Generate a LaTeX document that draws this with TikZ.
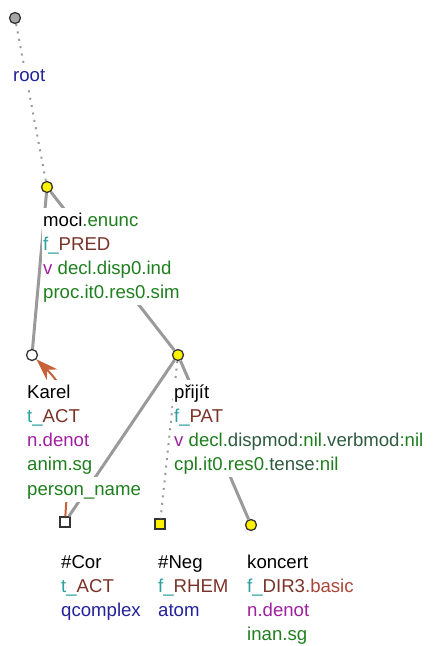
\documentclass[tikz,border=0pt]{standalone}
\usepackage{fontspec}
\setmainfont{Liberation Sans}
\usetikzlibrary{arrows.meta}
\definecolor{tgteal}{HTML}{2BA0A0}
\definecolor{tgbrown}{HTML}{7A3328}
\definecolor{tgpurple}{HTML}{A020A0}
\definecolor{tggreen}{HTML}{1F7F1F}
\definecolor{tgdkgreen}{HTML}{2F5B40}
\definecolor{tgblue}{HTML}{22229A}
\definecolor{tgred}{HTML}{A8473A}
\definecolor{tgorange}{HTML}{C8603A}
\definecolor{tgedge}{HTML}{9A9A9A}
\tikzset{
  tnode/.style={circle, draw=black!80, line width=1.3pt, inner sep=0pt,
    minimum size=11pt},
  tsquare/.style={rectangle, draw=black!80, line width=1.3pt, inner sep=0pt,
    minimum size=10pt},
  lbl/.style={anchor=base west, fill=white, inner xsep=1pt, inner ysep=0pt,
    text height=18pt, text depth=6.3pt, font=\fontsize{18.6}{24.3}\selectfont},
  tedge/.style={tgedge, line width=3pt},
  tdot/.style={tgedge, line width=2pt, dash pattern=on 2pt off 5.5pt},
}
\begin{document}
\begin{tikzpicture}[x=1pt, y=-1pt]
\useasboundingbox (0,0) rectangle (433,646);
% tree nodes
\node[tnode, fill=black!35] (root) at (15,18) {};
\node[tnode, fill=yellow] (moci) at (47,187) {};
\node[tnode, fill=white] (karel) at (32,355) {};
\node[tnode, fill=yellow] (prijit) at (178,355) {};
\node[tsquare, fill=white] (cor) at (65,522) {};
\node[tsquare, fill=yellow] (neg) at (160,524) {};
\node[tnode, fill=yellow] (koncert) at (251,525) {};

% edges, later covered by the label lines
\draw[tdot] (root) -- (moci);
\draw[tedge] (moci) -- (karel);
\draw[tedge] (moci) -- (prijit);
\draw[tedge] (prijit) -- (cor);
\draw[tdot] (prijit) -- (neg);
\draw[tedge] (prijit) -- (koncert);
% coreference arrow
\draw[tgorange, line width=2pt, -{Stealth[length=22pt, width=15pt, inset=7pt]}]
  (cor) .. controls (70,440) and (80,402) .. (karel);

% labels, one white box per line
\node[lbl] (rootl1) at (12,81) {\color{tgblue}root};

\node[lbl] (mocil1) at (42,226) {moci\color{tggreen}.enunc};
\node[lbl] (mocil2) at (42,250.3) {\color{tgteal}f\_\color{tgbrown}PRED};
\node[lbl] (mocil3) at (42,274.6) {\color{tgpurple}v \color{tggreen}decl.disp0.ind};
\node[lbl] (mocil4) at (42,298.9) {\color{tggreen}proc.it0.res0.sim};

\node[lbl] (karl1) at (26,398) {Karel};
\node[lbl] (karl2) at (26,422.3) {\color{tgteal}t\_\color{tgbrown}ACT};
\node[lbl] (karl3) at (26,446.6) {\color{tgpurple}n.denot};
\node[lbl] (karl4) at (26,470.9) {\color{tggreen}anim.sg};
\node[lbl] (karl5) at (26,495.2) {\color{tggreen}person\_name};

\node[lbl] (pril1) at (173,398) {přijít};
\node[lbl] (pril2) at (173,422.3) {\color{tgteal}f\_\color{tgbrown}PAT};
\node[lbl] (pril3) at (173,446.6) {\color{tgpurple}v \color{tggreen}decl.\color{tgdkgreen}dispmod\color{tggreen}:nil.\color{tgdkgreen}verbmod\color{tggreen}:nil};
\node[lbl] (pril4) at (173,470.9) {\color{tggreen}cpl.it0.res0.\color{tgdkgreen}tense\color{tggreen}:nil};

\node[lbl] (corl1) at (60,568) {\#Cor};
\node[lbl] (corl2) at (60,592.3) {\color{tgteal}t\_\color{tgbrown}ACT};
\node[lbl] (corl3) at (60,616.6) {\color{tgblue}qcomplex};

\node[lbl] (negl1) at (157,568) {\#Neg};
\node[lbl] (negl2) at (157,592.3) {\color{tgteal}f\_\color{tgbrown}RHEM};
\node[lbl] (negl3) at (157,616.6) {\color{tgblue}atom};

\node[lbl] (konl1) at (246,568) {koncert};
\node[lbl] (konl2) at (246,592.3) {\color{tgteal}f\_\color{tgbrown}DIR3\color{tgred}.basic};
\node[lbl] (konl3) at (246,616.6) {\color{tgpurple}n.denot};
\node[lbl] (konl4) at (246,640.9) {\color{tggreen}inan.sg};
\end{tikzpicture}
\end{document}
